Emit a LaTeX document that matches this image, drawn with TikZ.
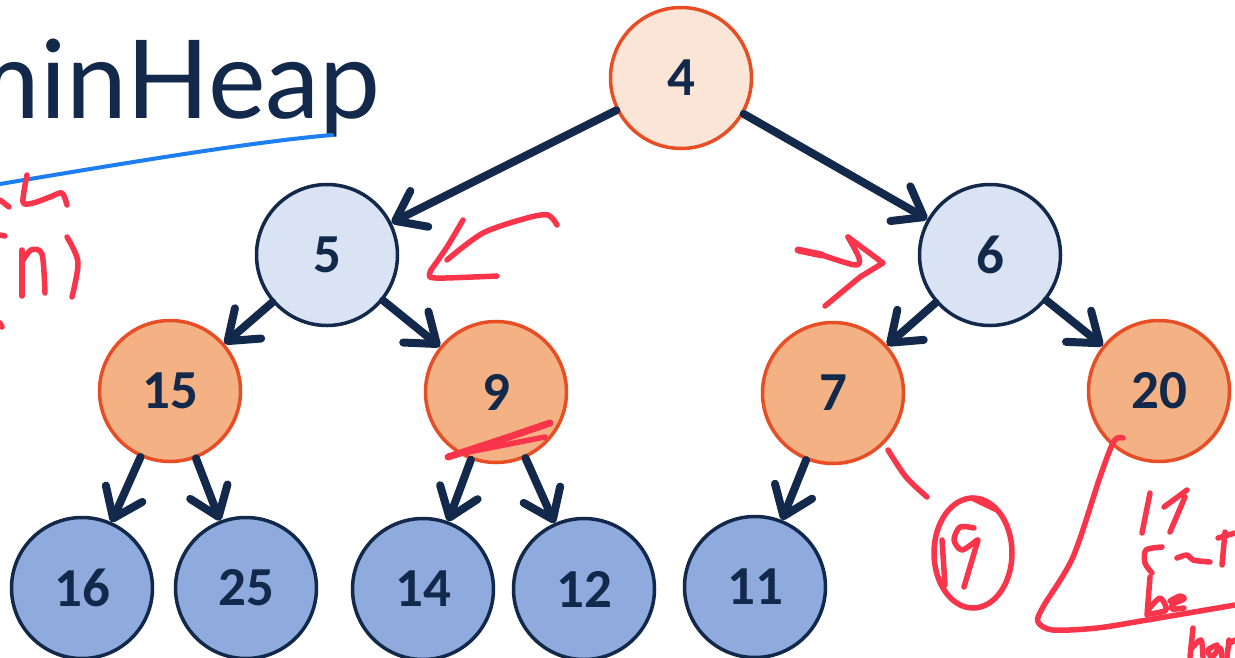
\documentclass[tikz,border=0pt]{standalone}
\usepackage{fontspec}
\setmainfont{Lato}
\newfontfamily\digitfont{Carlito}
\usetikzlibrary{arrows.meta}
\definecolor{navy}{HTML}{13294B}
\definecolor{hotorange}{HTML}{E84E25}
\definecolor{rootfill}{HTML}{FBE5D6}
\definecolor{paleblue}{HTML}{DAE3F3}
\definecolor{peach}{HTML}{F4B183}
\definecolor{midblue}{HTML}{8FAADC}
\definecolor{inkred}{HTML}{F8354A}
\definecolor{inkblue}{HTML}{1C7EF0}
\tikzset{
  heapnode/.style={circle, minimum size=141pt, inner sep=0pt, line width=3.5pt,
    font=\digitfont\fontsize{55}{55}\selectfont\bfseries, text=navy},
  rootnode/.style={heapnode, draw=hotorange, fill=rootfill},
  uppernode/.style={heapnode, draw=navy, fill=paleblue},
  orangenode/.style={heapnode, draw=hotorange, fill=peach},
  leafnode/.style={heapnode, draw=navy, fill=midblue},
  edge/.style={draw=navy, line width=8pt, line cap=round,
    -{Straight Barb[length=27pt,width=40pt,round]}},
  ink/.style={draw=inkred, line width=5.5pt, line cap=round, line join=round},
}
\begin{document}
\begin{tikzpicture}[x=1pt,y=-1pt]
\useasboundingbox (0,0) rectangle (1235,657);
\clip (0,0) rectangle (1235,657);

% title
\node[anchor=base east, inner sep=0pt, text=navy,
  font=\fontsize{109}{109}\selectfont] (title) at (381,118) {minHeap};
\draw[draw=inkblue, line width=4pt, line cap=round]
  (0,184) .. controls (120,164) and (250,142) .. (332,135);

% heap nodes
\node[rootnode]   (n4)  at (681,78)  {4};
\node[uppernode]  (n5)  at (327,255) {5};
\node[uppernode]  (n6)  at (990,255) {6};
\node[orangenode] (n15) at (170,391) {15};
\node[orangenode] (n9)  at (496,392) {9};
\node[orangenode] (n7)  at (833,393) {7};
\node[orangenode] (n20) at (1159,391) {20};
\node[leafnode]   (n16) at (82,588)  {16};
\node[leafnode]   (n25) at (246,588) {25};
\node[leafnode]   (n14) at (423,589) {14};
\node[leafnode]   (n12) at (584,589) {12};
\node[leafnode]   (n11) at (755,587) {11};

% parent -> child edges
\draw[edge] (n4) -- (n5);
\draw[edge] (n4) -- (n6);
\draw[edge] (n5) -- (n15);
\draw[edge] (n5) -- (n9);
\draw[edge] (n6) -- (n7);
\draw[edge] (n6) -- (n20);
\draw[edge] (n15) -- (n16);
\draw[edge] (n15) -- (n25);
\draw[edge] (n9) -- (n14);
\draw[edge] (n9) -- (n12);
\draw[edge] (n7) -- (n11);

% handwritten notes, left margin
\draw[ink] (0,200) -- (9,207);
\draw[ink] plot[smooth] coordinates {(27,175) (23,202) (33,203) (50,197) (62,193) (67,205)};
\draw[ink] (0,235) -- (5,236);
\draw[ink] (22,250) -- (22,296);
\draw[ink] plot[smooth] coordinates {(22,262) (31,250) (42,254) (45,293)};
\draw[ink] plot[smooth] coordinates {(67,237) (78,262) (72,297)};
\draw[ink] (0,323) -- (2,327);

% swap arrow towards 5
\draw[ink] plot[smooth] coordinates {(557,225) (548,215) (527,218) (483,233) (447,260)};
\draw[ink] plot[smooth] coordinates {(463,220) (447,247) (431,270)};
\draw[ink] plot[smooth] coordinates {(431,270) (430,277) (445,278) (497,276)};

% arrow towards 6
\draw[ink, line width=7pt] (798,250) -- (822,255);
\draw[ink] plot[smooth] coordinates {(822,255) (855,265) (859,258) (848,237)};
\draw[ink] (848,237) -- (883,263) -- (860,277) -- (825,306);

% strike-through over 9
\draw[ink, line width=7pt] plot[smooth] coordinates {(448,457) (500,440) (550,423)};
\draw[ink] (453,455) -- (545,437);

% inserted 19 hanging from 7
\draw[ink] plot[smooth] coordinates {(888,450) (906,477) (927,497)};
\draw[ink] (973,553) ellipse[x radius=39, y radius=55];
\draw[ink] (972,498) -- (997,510);
\draw[ink] (942,540) -- (945,585);
\draw[ink] plot[smooth] coordinates {(974,528) (960,527) (954,540) (962,550) (977,540)};
\draw[ink] (978,540) -- (964,587);

% note under 20
\draw[ink] plot[smooth] coordinates {(1123,438) (1114,441) (1100,477) (1073,557) (1043,607) (1038,622) (1053,630) (1097,628) (1147,620) (1235,605)};
\draw[ink] (1150,493) -- (1142,533);
\draw[ink] (1187,490) -- (1164,507);
\draw[ink] (1185,497) -- (1170,532);
\draw[ink] plot[smooth] coordinates {(1162,547) (1146,550) (1145,563) (1152,573)};
\draw[ink] plot[smooth] coordinates {(1177,558) (1187,555) (1193,560) (1210,562)};
\draw[ink] (1225,532) -- (1222,565);
\draw[ink] (1218,538) -- (1235,533);
\draw[ink] (1150,577) -- (1147,615);
\draw[ink] plot[smooth] coordinates {(1148,610) (1160,598) (1166,610) (1149,614)};
\draw[ink] plot[smooth] coordinates {(1170,601) (1180,596) (1184,599) (1173,604) (1172,609) (1184,608)};
\draw[ink] (1193,628) -- (1190,657);
\draw[ink] plot[smooth] coordinates {(1192,648) (1201,640) (1203,657)};
\draw[ink] plot[smooth] coordinates {(1217,645) (1208,650) (1212,657) (1220,648) (1222,657)};
\draw[ink] (1229,640) -- (1227,657);
\draw[ink] (1229,644) -- (1235,640);
\end{tikzpicture}
\end{document}
